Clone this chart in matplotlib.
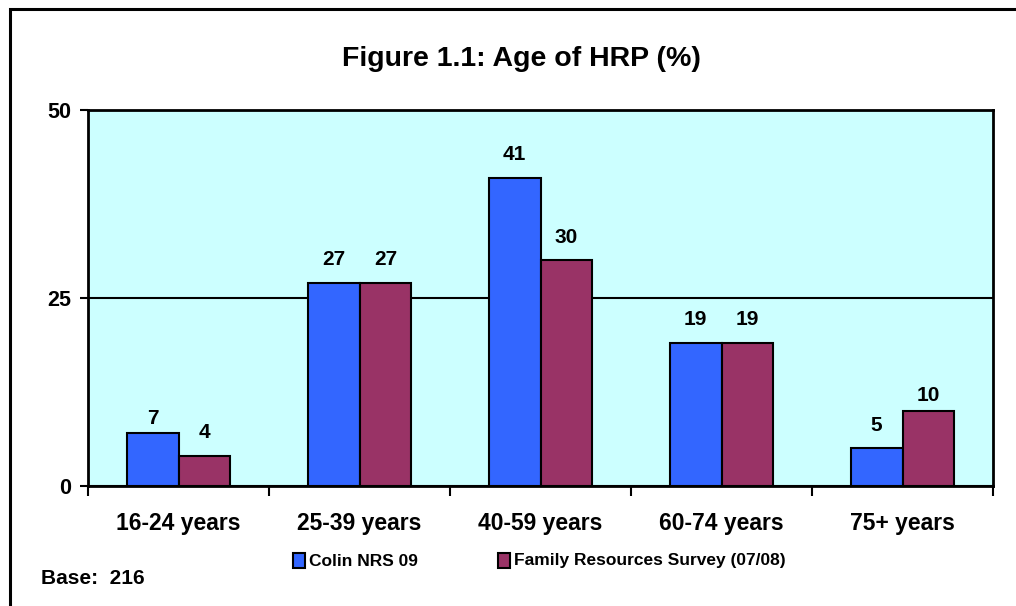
import numpy as np
import matplotlib
matplotlib.use('Agg')
import matplotlib.pyplot as plt
from matplotlib.patches import Rectangle

plt.rcParams['font.family'] = ['Liberation Sans', 'DejaVu Sans']
plt.rcParams['font.weight'] = 'bold'

categorias = ['16-24 years', '25-39 years', '40-59 years', '60-74 years', '75+ years']
colin = [7, 27, 41, 19, 5]
frs = [4, 27, 30, 19, 10]
series = ['Colin NRS 09', 'Family Resources Survey (07/08)']
colores = ['#3366FF', '#993366']

fig = plt.figure(figsize=(10.16, 6.06), dpi=100)
ax = fig.add_axes([88/1016, 120/606, 905/1016, 376/606])
ax.set_facecolor('#CCFFFF')

x = np.arange(len(categorias))
w = 0.287
b1 = ax.bar(x - w/2, colin, w, color=colores[0], edgecolor='black', linewidth=1.5, zorder=3)
b2 = ax.bar(x + w/2, frs, w, color=colores[1], edgecolor='black', linewidth=1.5, zorder=3)

# algunas etiquetas quedan mas pegadas a la barra en el original
pegadas = {(0, 0), (1, 4)}
for k, (barras, vals) in enumerate([(b1, colin), (b2, frs)]):
    for i, (r, v) in enumerate(zip(barras, vals)):
        off = 4 if (k, i) in pegadas else 10
        ax.annotate(str(v), (r.get_x() + r.get_width()/2, v), xytext=(0, off),
                    textcoords='offset points', ha='center', va='bottom',
                    fontsize=15, fontweight='bold')

ax.set_xlim(-0.5, len(categorias) - 0.5)
ax.set_ylim(0, 50)
ax.set_yticks([0, 25, 50])
ax.tick_params(axis='y', labelsize=15.5, length=6, width=1.5, direction='out', pad=6)
ax.yaxis.grid(True, color='black', linewidth=1.5, zorder=1)
ax.set_axisbelow(True)

ax.set_xticks(x)
ax.set_xticklabels(categorias, fontsize=16.5, fontweight='bold')
ax.tick_params(axis='x', length=0, pad=19)
ax.set_xticks(np.arange(len(categorias) + 1) - 0.5, minor=True)
ax.tick_params(axis='x', which='minor', length=7, width=1.5, direction='out')

for s in ax.spines.values():
    s.set_linewidth(2)
    s.set_color('black')

fig.text(521/1016, 1 - 59/606, 'Figure 1.1: Age of HRP (%)', ha='center', va='center',
         fontsize=20.5, fontweight='bold')

# leyenda a mano
leg_x = [293, 498]
for xs, nombre, c in zip(leg_x, series, colores):
    fig.patches.append(Rectangle((xs/1016, 1 - 568/606), 12/1016, 15/606, transform=fig.transFigure,
                                 facecolor=c, edgecolor='black', linewidth=1.5))
    fig.text((xs + 16)/1016, 1 - 561/606, nombre, ha='left', va='center', fontsize=12.5,
             fontweight='bold')

fig.text(41/1016, 1 - 579/606, 'Base:  216', ha='left', va='center', fontsize=15, fontweight='bold')

# marco exterior
fig.patches.append(Rectangle((10/1016, -0.1), 1.2, 1 - 9/606 + 0.1, transform=fig.transFigure,
                             fill=False, edgecolor='black', linewidth=2.2))

fig.savefig('out.png', dpi=100)
